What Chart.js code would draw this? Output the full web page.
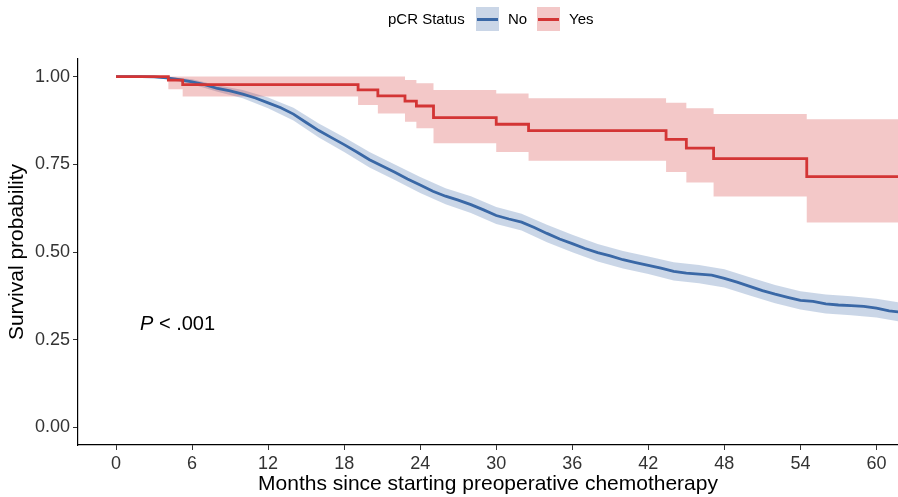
<!DOCTYPE html>
<html>
<head>
<meta charset="utf-8">
<script src="https://cdn.jsdelivr.net/npm/chart.js@4.4.1/dist/chart.umd.min.js"></script>
<style>
html,body{margin:0;padding:0;background:#fff;}
#wrap{position:relative;width:898px;height:497px;overflow:hidden;font-family:"Liberation Sans",Arial,Helvetica,sans-serif;}
#c{position:absolute;left:0;top:0;}
.t{position:absolute;white-space:nowrap;color:#000;line-height:1;}
.key{position:absolute;top:7px;width:23px;height:24px;}
.key i{position:absolute;left:1px;right:1px;top:10.5px;height:3px;}
</style>
</head>
<body>
<div id="wrap">
<canvas id="c" width="898" height="497"></canvas>
<div class="t" style="left:388px;top:11px;font-size:15px;">pCR Status</div>
<div class="key" style="left:476px;background:rgba(58,104,166,0.27);"><i style="background:#3A68A6"></i></div>
<div class="t" style="left:508px;top:11px;font-size:15px;">No</div>
<div class="key" style="left:537px;background:rgba(211,53,53,0.27);"><i style="background:#D33535"></i></div>
<div class="t" style="left:569px;top:11px;font-size:15px;">Yes</div>
<div class="t" style="left:140px;top:313px;font-size:20px;"><i>P</i> &lt; .001</div>
</div>
<script>
// ---- data ----
const xTicks = [0, 6, 12, 18, 24, 30, 36, 42, 48, 54, 60];
const yTicks = [0, 0.25, 0.5, 0.75, 1];

// pCR = No (Kaplan-Meier estimate)
const noMonths = [0,1,2,3,4,5,6,7,8,9,10,11,12,13,14,15,16,17,18,19,20,21,22,23,24,25,26,27,28,29,30,31,32,33,34,35,36,37,38,39,40,41,42,43,44,45,46,47,48,49,50,51,52,53,54,55,56,57,58,59,60,61,62];
const noSurv = [1.000,1.000,1.000,0.999,0.996,0.991,0.985,0.977,0.966,0.959,0.950,0.939,0.925,0.911,0.893,0.869,0.846,0.826,0.806,0.785,0.763,0.745,0.727,0.708,0.691,0.673,0.659,0.648,0.635,0.620,0.604,0.594,0.585,0.570,0.553,0.537,0.524,0.510,0.498,0.489,0.478,0.470,0.462,0.454,0.445,0.440,0.437,0.434,0.425,0.414,0.402,0.390,0.380,0.371,0.362,0.359,0.352,0.349,0.347,0.345,0.340,0.332,0.328];
const noBandMonths = [0,2,4,6,8,10,12,14,16,18,20,22,24,26,28,30,32,34,36,38,40,42,44,46,48,50,52,54,56,58,60,62];
const noUpper = [1.000,1.000,1.000,0.992,0.975,0.962,0.940,0.911,0.866,0.827,0.785,0.749,0.714,0.682,0.659,0.628,0.609,0.578,0.549,0.523,0.503,0.487,0.471,0.463,0.451,0.428,0.406,0.388,0.379,0.374,0.367,0.355];
const noLower = [1.000,1.000,0.992,0.978,0.957,0.938,0.910,0.875,0.826,0.785,0.741,0.705,0.668,0.636,0.611,0.580,0.561,0.528,0.499,0.473,0.453,0.437,0.419,0.411,0.399,0.376,0.354,0.336,0.325,0.320,0.313,0.301];

// pCR = Yes
const yesMonths = [0, 4.13, 5.26, 19.1, 20.66, 22.8, 23.7, 25.05, 30.0, 32.55, 43.4, 45.0, 47.15, 54.5, 62];
const yesSurv  = [1, 0.990, 0.977, 0.962, 0.945, 0.930, 0.916, 0.883, 0.864, 0.846, 0.821, 0.796, 0.766, 0.715, 0.715];
const yesUpper = [1, 1, 1, 1, 1, 0.990, 0.981, 0.962, 0.952, 0.938, 0.925, 0.910, 0.893, 0.878, 0.878];
const yesLower = [1, 0.964, 0.943, 0.919, 0.895, 0.871, 0.853, 0.810, 0.785, 0.760, 0.728, 0.698, 0.658, 0.584, 0.584];

// ---- chart ----
const BLUE = '#3A68A6', RED = '#D33535';
const BLUE_BAND = 'rgba(58,104,166,0.27)', RED_BAND = 'rgba(211,53,53,0.27)';
const FONT = '"Liberation Sans", Arial, Helvetica, sans-serif';
const pts = (xs, ys) => xs.map((x, i) => ({x: x, y: ys[i]}));

const band = (data, fill, color, stepped, order) => ({
  data: data, fill: fill, backgroundColor: color, borderColor: 'rgba(0,0,0,0)',
  borderWidth: 0, pointRadius: 0, stepped: stepped, order: order
});

new Chart(document.getElementById('c'), {
  type: 'line',
  data: {
    datasets: [
      {label: 'Yes', data: pts(yesMonths, yesSurv), borderColor: RED, borderWidth: 2.8, pointRadius: 0, fill: false, stepped: 'before', order: 0},
      {label: 'No', data: pts(noMonths, noSurv), borderColor: BLUE, borderWidth: 2.8, pointRadius: 0, fill: false, order: 1},
      band(pts(yesMonths, yesUpper), '+1', RED_BAND, 'before', 3),
      band(pts(yesMonths, yesLower), false, RED_BAND, 'before', 2),
      band(pts(noBandMonths, noUpper), '+1', BLUE_BAND, false, 5),
      band(pts(noBandMonths, noLower), false, BLUE_BAND, false, 4)
    ]
  },
  options: {
    responsive: false,
    animation: false,
    layout: {padding: {top: 59, left: 0, right: 0, bottom: 0}},
    plugins: {legend: {display: false}, tooltip: {enabled: false}},
    elements: {point: {radius: 0}, line: {tension: 0}},
    scales: {
      x: {
        type: 'linear', min: -3, max: 61.7,
        afterBuildTicks: s => { s.ticks = xTicks.map(v => ({value: v})); },
        afterFit: s => { s.height = 52; },
        grid: {display: true, drawOnChartArea: false, drawTicks: true, tickLength: 5, color: '#333', lineWidth: 1},
        border: {display: true, color: '#000', width: 1.2},
        ticks: {font: {size: 18, family: FONT}, color: '#333', padding: 3, maxRotation: 0, autoSkip: false, callback: v => String(v)},
        title: {display: true, text: 'Months since starting preoperative chemotherapy', font: {size: 21, family: FONT}, color: '#000', padding: {top: 0, bottom: 0}}
      },
      y: {
        type: 'linear', min: -0.05, max: 1.05,
        afterBuildTicks: s => { s.ticks = yTicks.map(v => ({value: v})); },
        afterFit: s => { s.width = 78; },
        grid: {display: true, drawOnChartArea: false, drawTicks: true, tickLength: 5, color: '#333', lineWidth: 1},
        border: {display: true, color: '#000', width: 1.2},
        ticks: {font: {size: 18, family: FONT}, color: '#333', padding: 3, callback: v => Number(v).toFixed(2)},
        title: {display: true, text: 'Survival probability', font: {size: 21, family: FONT}, color: '#000', padding: {top: 5, bottom: 0}}
      }
    }
  }
});
</script>
</body>
</html>
